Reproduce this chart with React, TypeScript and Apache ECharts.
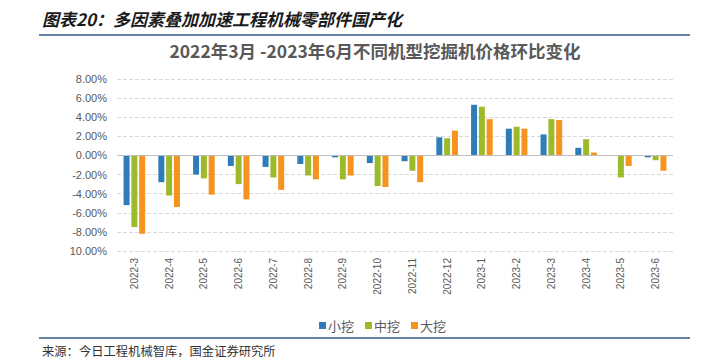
import React, { useEffect, useRef } from "react";
import * as echarts from "echarts";

const categories = [
  "2022-3", "2022-4", "2022-5", "2022-6", "2022-7", "2022-8", "2022-9", "2022-10",
  "2022-11", "2022-12", "2023-1", "2023-2", "2023-3", "2023-4", "2023-5", "2023-6",
];
const small = [-5.2, -2.8, -2.0, -1.1, -1.2, -0.9, -0.2, -0.8, -0.6, 1.9, 5.3, 2.8, 2.2, 0.8, -0.05, -0.2];
const medium = [-7.5, -4.2, -2.4, -3.0, -2.3, -2.1, -2.5, -3.2, -1.6, 1.8, 5.1, 3.0, 3.8, 1.7, -2.3, -0.5];
const large = [-8.2, -5.4, -4.1, -4.6, -3.6, -2.5, -2.1, -3.3, -2.8, 2.6, 3.8, 2.8, 3.7, 0.3, -1.1, -1.6];
const seriesNames = ["小挖", "中挖", "大挖"];
const colors = ["#2E7DB8", "#9CBA2A", "#F6921E"];

const header = "图表20：多因素叠加加速工程机械零部件国产化";
const chartTitle = "2022年3月 -2023年6月不同机型挖掘机价格环比变化";
const source = "来源：今日工程机械智库，国金证券研究所";

export default function App() {
  const ref = useRef<HTMLDivElement>(null);
  useEffect(() => {
    if (!ref.current) return;
    const chart = echarts.init(ref.current, null, { renderer: "svg" });
    const datasets = [small, medium, large];
    chart.setOption({
      animation: false,
      backgroundColor: "#ffffff",
      title: {
        text: chartTitle,
        left: 370,
        textAlign: "center",
        top: 37,
        textStyle: {
          fontFamily: "Noto Sans CJK SC",
          fontSize: 17.5,
          fontWeight: "bold",
          color: "#595959",
        },
      },
      legend: {
        data: seriesNames,
        left: 314,
        top: 314,
        itemWidth: 7,
        itemHeight: 7,
        itemGap: 11,
        icon: "rect",
        textStyle: { fontFamily: "Noto Sans CJK SC", fontSize: 13, color: "#595959", padding: [0, 0, 0, -3] },
      },
      grid: { left: 117, right: 37, top: 79, bottom: 111, containLabel: false },
      xAxis: {
        type: "category",
        data: categories,
        axisLine: { show: false, onZero: false },
        axisTick: { show: false },
        axisLabel: {
          rotate: 90,
          margin: 7,
          fontFamily: "Liberation Sans",
          fontSize: 10,
          color: "#595959",
          interval: 0,
        },
      },
      yAxis: {
        type: "value",
        min: -10,
        max: 8,
        interval: 2,
        axisLine: { show: false },
        axisTick: { show: false },
        axisLabel: {
          margin: 10,
          fontFamily: "Liberation Sans",
          fontSize: 11,
          color: "#595959",
          formatter: (v: number) => (v === -10 ? "10.00%" : v.toFixed(2) + "%"),
        },
        splitLine: { lineStyle: { type: "dashed", color: "#D9D9D9" } },
      },
      series: datasets.map((d, i) => ({
        name: seriesNames[i],
        type: "bar",
        data: d,
        barWidth: 6,
        barGap: "30%",
        itemStyle: { color: colors[i] },
        markLine:
          i === 0
            ? {
                silent: true,
                symbol: "none",
                label: { show: false },
                lineStyle: { type: "solid", color: "#BFBFBF", width: 1 },
                data: [{ yAxis: 0 }],
              }
            : undefined,
      })),
      graphic: [
        {
          type: "text",
          left: 42,
          top: 10,
          style: {
            text: header,
            fontFamily: "Noto Sans CJK SC",
            fontSize: 17,
            fontStyle: "italic",
            fontWeight: "bold",
            fill: "#1a1a1a",
          },
        },
        {
          type: "line",
          shape: { x1: 39, y1: 35, x2: 690, y2: 35 },
          style: { stroke: "#2E5A84", lineWidth: 1.5 },
        },
        {
          type: "line",
          shape: { x1: 39, y1: 338, x2: 690, y2: 338 },
          style: { stroke: "#2E5A84", lineWidth: 1.5 },
        },
        {
          type: "text",
          left: 42,
          top: 345,
          style: {
            text: source,
            fontFamily: "Noto Sans CJK SC",
            fontSize: 12.3,
            fill: "#333333",
          },
        },
      ],
    });
    return () => chart.dispose();
  }, []);
  return (
    <div
      ref={ref}
      style={{ position: "absolute", left: 0, top: 0, width: 710, height: 362 }}
    />
  );
}
